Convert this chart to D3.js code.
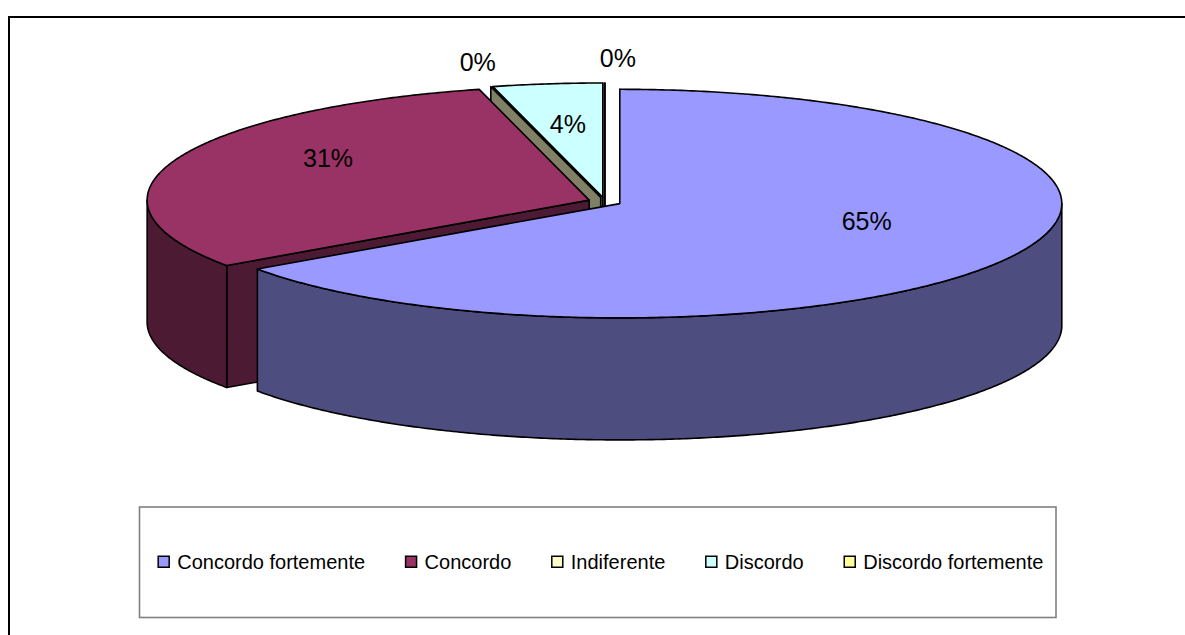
<!DOCTYPE html>
<html>
<head>
<meta charset="utf-8">
<script src="https://cdn.jsdelivr.net/npm/d3@7"></script>
<style>
  html, body { margin: 0; padding: 0; background: #fff; overflow: hidden; }
  svg { display: block; }
  text { font-family: "Liberation Sans", Arial, sans-serif; fill: #000; }
</style>
</head>
<body>
<svg id="chart" width="1185" height="635"></svg>
<script>
// Survey answers (share of respondents, %)
const categories = ["Concordo fortemente", "Concordo", "Indiferente", "Discordo", "Discordo fortemente"];
const shares = [65.3, 30.7, 0, 4.0, 0];
const topColors = ["#9999FF", "#993366", "#FFFFCC", "#CCFFFF", "#FFFF99"];
const sideColors = ["#4D4D80", "#4D1A33", "#808066", "#668080", "#80804D"];

const W = 1185, H = 635;
const svg = d3.select("#chart");

// chart area frame (its right and bottom edges run past the visible page)
svg.append("rect")
  .attr("x", 9).attr("y", 17).attr("width", W + 100).attr("height", H + 100)
  .attr("fill", "#fff").attr("stroke", "#000").attr("stroke-width", 2);

// exploded 3-D pie geometry
const cx = 604.9, cy = 201.6;      // centre of the pie plane
const rx = 442, ry = 114.3;        // ellipse radii of the tilted disc
const depth = 122;                 // thickness of the disc
const explode = 16.8;              // radial offset of every slice
const k = ry / rx;

const pie = d3.pie().sort(null).value(d => d).startAngle(0).endAngle(2 * Math.PI);
const arcs = pie(shares);
const total = d3.sum(shares);

const slices = arcs.map((a, i) => {
  const mid = (a.startAngle + a.endAngle) / 2;
  return {
    i, a0: a.startAngle, a1: a.endAngle, mid,
    ox: cx + explode * Math.sin(mid),
    oy: cy - explode * k * Math.cos(mid),
    pct: a.value / total * 100
  };
});

const pt = (s, t, dz = 0) => [s.ox + rx * Math.sin(t), s.oy - ry * Math.cos(t) + dz];
function arcPts(s, t0, t1, dz = 0) {
  const n = Math.max(2, Math.ceil(Math.abs(t1 - t0) / (Math.PI / 360)));
  return d3.range(n + 1).map(j => pt(s, t0 + (t1 - t0) * j / n, dz));
}
const line = d3.line().curve(d3.curveLinear);
const poly = pts => line(pts) + "Z";

const g = svg.append("g")
  .attr("stroke", "#000").attr("stroke-width", 1.6).attr("stroke-linejoin", "round");

// 1) radial walls facing the viewer, back to front
const walls = [];
slices.forEach(s => {
  const addWall = t => {
    const apex = [s.ox, s.oy], rim = pt(s, t);
    walls.push({
      s, key: (apex[1] + rim[1]) / 2,
      pts: [apex, rim, [rim[0], rim[1] + depth], [apex[0], apex[1] + depth]]
    });
  };
  if (Math.sin(s.a0) <= 1e-9) addWall(s.a0);
  if (Math.sin(s.a1) >= -1e-9) addWall(s.a1);
});
walls.sort((a, b) => a.key - b.key);
g.append("g").selectAll("path").data(walls).join("path")
  .attr("d", w => poly(w.pts))
  .attr("fill", w => sideColors[w.s.i]);

// 2) outer curved walls (front half of the disc only)
const outer = slices.map(s => {
  const t0 = Math.max(s.a0, Math.PI / 2), t1 = Math.min(s.a1, 3 * Math.PI / 2);
  if (t1 <= t0) return null;
  const topEdge = arcPts(s, t0, t1);
  const botEdge = arcPts(s, t1, t0, depth);
  return { s, pts: topEdge.concat(botEdge) };
}).filter(Boolean);
g.append("g").selectAll("path").data(outer).join("path")
  .attr("d", o => poly(o.pts))
  .attr("fill", o => sideColors[o.s.i]);

// 3) top faces
const tops = slices.filter(s => s.a1 - s.a0 > 1e-9);
g.append("g").selectAll("path").data(tops).join("path")
  .attr("d", s => poly([[s.ox, s.oy]].concat(arcPts(s, s.a0, s.a1))))
  .attr("fill", s => topColors[s.i]);

// data labels
const fmt = v => d3.format(".0f")(v) + "%";
const labels = svg.append("g").attr("font-size", 25);
slices.forEach(s => {
  if (s.pct >= 1) {
    const x = s.ox + 0.63 * rx * Math.sin(s.mid);
    const y = s.oy - 0.63 * ry * Math.cos(s.mid) - 18 * Math.abs(Math.sin(s.mid));
    labels.append("text").attr("x", x).attr("y", y).attr("dy", "0.36em")
      .attr("text-anchor", "middle").text(fmt(s.pct));
  } else {
    const r = pt(s, s.mid);
    const side = Math.sin(s.mid) < -1e-9 ? -1 : 1;
    labels.append("text").attr("x", r[0] + side * 13).attr("y", r[1] - 16)
      .attr("text-anchor", "middle").text(fmt(s.pct));
  }
});

// legend
const lg = { x: 139.5, y: 507, w: 916.5, h: 110.5 };
svg.append("rect").attr("x", lg.x).attr("y", lg.y).attr("width", lg.w).attr("height", lg.h)
  .attr("fill", "#fff").attr("stroke", "#808080").attr("stroke-width", 1.6);

const box = 11, gapText = 8, gapItem = 40.5;
const legend = svg.append("g").attr("font-size", 20);
const items = categories.map((c, i) => {
  const t = legend.append("text").attr("y", 0).text(c);
  return { i, t, w: t.node().getComputedTextLength() };
});
const rowW = d3.sum(items, d => box + gapText + d.w) + gapItem * (items.length - 1);
let xPos = lg.x + (lg.w - rowW) / 2 + 3;
const midY = lg.y + lg.h / 2;
items.forEach(d => {
  legend.append("rect")
    .attr("x", xPos).attr("y", midY - box / 2 - 0.5).attr("width", box).attr("height", box)
    .attr("fill", topColors[d.i]).attr("stroke", "#000").attr("stroke-width", 1.5);
  d.t.attr("x", xPos + box + gapText).attr("y", midY + 7);
  xPos += box + gapText + d.w + gapItem;
});
</script>
</body>
</html>
